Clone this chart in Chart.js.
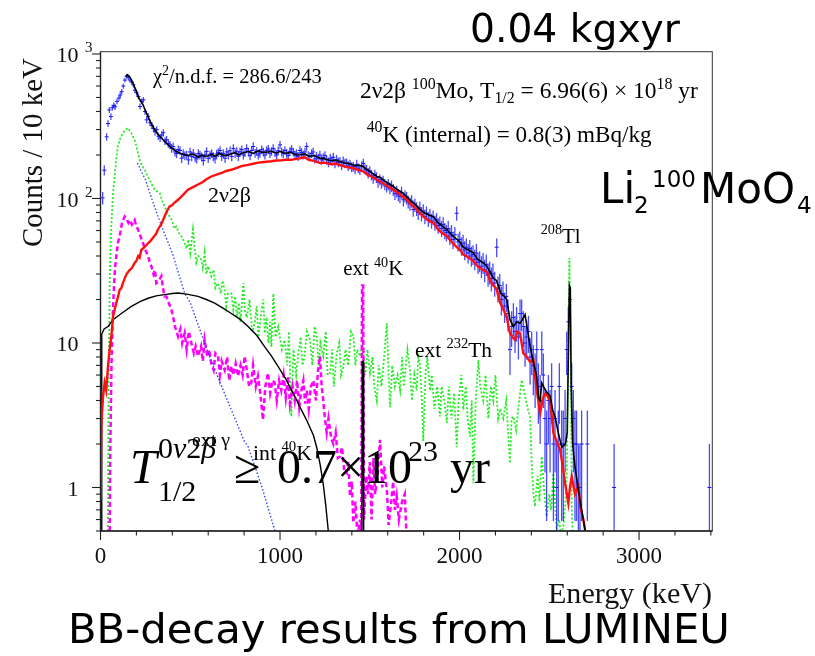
<!DOCTYPE html>
<html>
<head>
<meta charset="utf-8">
<script src="https://cdn.jsdelivr.net/npm/chart.js@4.4.0/dist/chart.umd.min.js"></script>
<style>
  html, body { margin: 0; padding: 0; background: #fff; }
</style>
</head>
<body>
<canvas id="spec" width="815" height="656"></canvas>
<script>
// energy spectrum, [keV, counts per 10 keV]
const dataCounts = [[5,3],[12,101],[21,157],[34,267],[42,330],[49,410],[58,369],[66,425],[74,440],[81,431],[92,470],[103,496],[110,520],[118,549],[127,600],[136,660],[146,700],[155,690],[164,660],[173,640],[183,612],[192,560],[201,540],[211,508],[220,433],[230,470],[239,482],[248,400],[257,350],[266,370],[276,334],[286,320],[295,305],[304,290],[313,299],[322,270],[332,262],[341,275],[350,285],[359,250],[368,255],[378,240],[387,235],[396,222],[405,229],[415,210],[424,205],[433,218],[443,215],[452,190],[461,205],[470,198],[480,200],[490,185],[499,210],[508,195],[517,206],[527,192],[536,188],[545,205],[554,200],[564,194],[573,183],[582,200],[591,212],[600,190],[610,200],[619,205],[628,195],[638,188],[647,203],[656,208],[666,215],[675,196],[684,205],[694,190],[703,210],[712,200],[722,214],[731,195],[740,222],[750,205],[759,212],[768,196],[777,210],[787,218],[796,200],[805,208],[814,222],[824,210],[833,198],[842,215],[851,229],[861,206],[870,212],[879,200],[888,206],[898,218],[907,210],[916,200],[925,215],[935,220],[944,205],[953,212],[962,222],[972,208],[981,200],[990,214],[1000,235],[1009,210],[1018,205],[1027,215],[1037,206],[1046,198],[1055,212],[1064,220],[1074,210],[1083,200],[1092,205],[1101,196],[1111,215],[1120,208],[1129,200],[1139,210],[1148,229],[1157,198],[1166,195],[1176,205],[1185,210],[1194,188],[1203,196],[1213,190],[1222,200],[1231,185],[1240,192],[1250,198],[1260,185],[1270,178],[1280,190],[1290,182],[1297,193],[1306,175],[1315,186],[1325,178],[1334,180],[1343,170],[1352,182],[1362,175],[1371,176],[1380,168],[1390,172],[1399,165],[1408,166],[1418,160],[1427,172],[1436,162],[1445,158],[1455,168],[1464,175],[1473,160],[1482,158],[1491,150],[1500,155],[1510,145],[1519,138],[1528,146],[1537,140],[1546,130],[1556,135],[1565,128],[1574,132],[1584,125],[1594,121],[1603,125],[1612,118],[1621,122],[1631,115],[1640,108],[1650,112],[1659,106],[1668,103],[1677,110],[1687,98],[1696,104],[1705,101],[1714,95],[1724,92],[1733,96],[1742,84],[1751,90],[1761,85],[1770,80],[1779,86],[1788,78],[1798,82],[1807,75],[1816,79],[1826,72],[1835,76],[1844,70],[1853,74],[1863,68],[1872,71],[1881,65],[1890,67],[1900,62],[1909,66],[1918,60],[1927,58],[1937,62],[1946,55],[1955,58],[1964,52],[1974,56],[1984,79],[1992,50],[2001,52],[2011,47],[2020,49],[2029,44],[2038,46],[2048,42],[2057,45],[2066,40],[2075,41],[2085,38],[2094,42],[2103,36],[2112,37],[2122,34],[2131,36],[2140,32],[2149,35],[2159,30],[2168,31],[2177,28],[2186,30],[2196,26],[2207,46],[2214,24],[2224,25],[2233,20],[2242,22],[2251,18],[2261,21],[2270,16],[2281,9],[2290,13],[2300,15],[2309,12],[2318,14],[2328,11],[2337,16],[2346,16],[2356,13],[2365,10],[2374,11],[2384,12],[2393,8],[2402,9],[2411,7],[2421,6],[2430,9],[2439,5],[2449,4],[2458,9],[2467,6],[2476,3],[2485,2],[2495,4],[2504,3],[2513,5],[2523,2],[2532,3],[2541,1],[2550,2],[2556,5],[2569,2],[2578,2],[2588,3],[2597,9],[2606,14],[2615,20],[2625,5],[2634,3],[2643,2],[2652,2],[2662,1],[2671,1],[2680,2],[2712,2],[2861,1],[3392,1]];

// total fit
const fitTotal = [[140,700],[150,718],[160,700],[170,670],[181,629],[190,590],[200,555],[209,508],[220,480],[237,445],[250,405],[265,369],[280,335],[302,299],[320,278],[339,262],[355,250],[376,235],[400,222],[422,212],[445,205],[469,201],[490,198],[505,203],[525,201],[545,193],[565,200],[580,196],[599,197],[620,202],[640,195],[660,205],[680,200],[700,198],[729,204],[750,208],[770,200],[790,206],[822,212],[850,205],[880,214],[900,208],[930,210],[952,212],[980,206],[1000,212],[1030,205],[1060,209],[1090,200],[1111,201],[1137,204],[1160,196],[1190,198],[1223,190],[1250,188],[1280,183],[1310,184],[1334,180],[1360,176],[1390,174],[1420,168],[1440,170],[1464,166],[1480,160],[1500,154],[1520,148],[1539,142],[1560,140],[1580,133],[1600,128],[1631,121],[1650,116],[1680,110],[1706,103],[1730,96],[1750,92],[1780,84],[1800,80],[1830,77],[1854,75],[1880,68],[1900,65],[1929,61],[1950,57],[1970,54],[2003,50],[2020,46],[2050,44],[2077,42],[2100,38],[2130,36],[2152,34],[2170,31],[2190,28],[2207,27],[2230,22],[2250,21],[2263,20],[2281,14.5],[2300,13],[2320,14],[2337,13.7],[2350,14.5],[2365,15.7],[2380,12],[2393,9.5],[2410,7.5],[2430,5.9],[2440,4.2],[2449,4.0],[2458,5.3],[2475,4.8],[2490,4.5],[2504,4.3],[2520,3.4],[2532,3.1],[2550,2.4],[2569,1.9],[2590,2.0],[2600,2.4],[2607,10],[2612,25],[2617,24],[2622,5],[2630,2.0],[2643,1.4],[2660,1.0],[2680,0.7],[2700,0.5],[2715,0.4]];

// 2v2b 100Mo
const twoNu = [[0,0.82],[5,2.8],[14,4.2],[23,5.3],[32,4.7],[42,7],[51,9],[60,11],[70,15.3],[79,17],[88,18.9],[98,21],[107,23.4],[116,24],[125,26],[135,28],[145,30],[162,32],[175,33],[190,35.8],[200,37],[210,40],[218,39],[227,44],[245,46],[265,49],[280,51],[290,53],[300,55],[310,57],[320,61],[330,64],[340,67],[357,75],[370,82],[385,88],[400,90],[410,93],[432,98],[460,106],[487,115],[510,119],[543,125],[570,130],[590,136],[617,142],[650,147],[680,151],[700,155],[729,158],[760,163],[790,168],[822,171],[850,174],[880,177],[910,179],[952,181],[980,183],[1010,184],[1040,186],[1063,185],[1090,188],[1111,190],[1137,193],[1160,185],[1190,182],[1223,176],[1250,177],[1280,173],[1310,174],[1334,171],[1360,166],[1390,164],[1420,160],[1440,157],[1464,154],[1490,145],[1510,142],[1539,135],[1560,130],[1580,126],[1600,121],[1631,115],[1650,111],[1680,104],[1706,98],[1730,91],[1750,87],[1780,79],[1800,75],[1830,70],[1854,68],[1880,61],[1900,58],[1929,55],[1950,51],[1970,48],[2003,44],[2020,41],[2050,39],[2077,37],[2100,34],[2130,32],[2152,31],[2170,27],[2190,25],[2207,23.4],[2226,19],[2245,17],[2263,15],[2281,11.7],[2295,11],[2309,10.5],[2322,12],[2337,11.7],[2355,8.5],[2375,8.0],[2393,7.4],[2411,7.65],[2420,6],[2430,4.7],[2449,3.27],[2465,4.2],[2480,4.5],[2504,4.0],[2515,3.0],[2523,2.38],[2540,2.1],[2560,1.82],[2575,1.4],[2588,1.07],[2606,0.78],[2615,1.0],[2625,1.19],[2643,0.9],[2662,1.02],[2672,0.74],[2690,0.6],[2700,0.5],[2710,0.45]];

// external gamma (232Th chain, 208Tl line)
const extGamma = [[40,0.3],[45,5],[52,30],[60,64],[70,110],[79,142],[88,190],[97,229],[110,260],[125,284],[140,300],[153,307],[162,295],[172,284],[180,270],[190,255],[200,230],[209,205],[218,185],[230,170],[246,158],[260,145],[274,135],[288,124],[302,115],[316,112],[330,109],[344,96],[357,88],[371,80],[385,75],[400,70],[410,62],[422,64],[436,58],[450,55],[460,52],[469,49],[480,45],[490,52],[500,42],[515,61],[525,45],[534,36],[545,40],[560,38],[570,33],[580,42],[590,30],[600,34],[617,29],[630,32],[640,24],[655,26],[670,22],[680,27],[692,23],[700,18],[710,22],[729,22],[740,17],[750,21],[760,15],[770,19],[780,14],[796,26],[803,17],[815,15],[830,20],[845,12],[859,13.7],[870,18],[880,11],[895,16],[907,20],[915,11.7],[925,15],[935,10],[945,14],[952,9.4],[963,22],[975,11],[990,13],[1010,9],[1026,10.5],[1040,7],[1050,12],[1063,3.1],[1075,9],[1090,6],[1100,8.1],[1115,11],[1125,7],[1137,8.1],[1150,12],[1167,10.5],[1180,7],[1193,13],[1204,11.1],[1215,7],[1225,10],[1241,8.1],[1255,12],[1265,6],[1279,6.2],[1290,9],[1300,5],[1316,8.5],[1330,10],[1340,6],[1353,6.9],[1365,9],[1380,7],[1395,12],[1409,11.1],[1420,7],[1430,9],[1446,8.1],[1460,10],[1475,6],[1487,9],[1501,6.2],[1515,8],[1525,5],[1539,4.0],[1550,7],[1565,5],[1580,8],[1595,13.7],[1605,6],[1613,3.6],[1625,7],[1640,5],[1655,6],[1669,4.7],[1680,8],[1690,5],[1700,7],[1710,9],[1724,6.5],[1735,4],[1748,6],[1761,4.7],[1770,8],[1780,7],[1790,4],[1798,2.1],[1810,6],[1820,8],[1836,4.7],[1845,6],[1860,3.5],[1875,5],[1891,3.1],[1900,5],[1915,4],[1929,2.8],[1940,5],[1955,3],[1970,4.5],[1984,1.9],[1995,4],[2010,6],[2021,3.45],[2035,5],[2045,3],[2058,2.25],[2068,4],[2077,1.07],[2090,4],[2105,7.65],[2115,5],[2132,4.0],[2145,6],[2160,3],[2175,5],[2188,4.0],[2200,6],[2215,3],[2226,3.5],[2244,3.0],[2260,4],[2270,2.5],[2281,1.47],[2290,3],[2300,3.1],[2315,2.5],[2328,3.6],[2346,5.55],[2365,4.26],[2380,3.5],[2393,3.1],[2402,1.47],[2412,0.9],[2420,0.74],[2435,1.2],[2445,0.8],[2458,1.64],[2470,1.0],[2485,0.63],[2500,0.9],[2510,0.7],[2523,1.26],[2532,0.8],[2541,0.51],[2555,0.6],[2565,0.45],[2579,0.55],[2590,0.8],[2597,1.19],[2605,8],[2612,38.7],[2618,12],[2625,0.74],[2632,0.4]];

// external 40K
const ext40K = [[50,0.3],[55,2],[62,8],[70,18],[80,32],[88,40],[98,50],[107,55],[120,68],[135,75],[145,72],[155,68],[162,71],[175,66],[190,71],[200,64],[209,61],[222,55],[237,49],[250,44],[265,40],[275,36],[283,34],[295,30],[303,32],[311,26],[325,27],[339,29],[348,24],[357,21],[367,21],[380,19],[395,17],[405,15],[415,13],[432,11.1],[445,12.5],[455,10],[469,11.7],[480,9],[492,12],[506,10],[520,8.5],[530,9.5],[543,8.1],[560,9.5],[570,7.5],[580,10.5],[595,8],[605,9],[617,7.2],[630,6.5],[640,8.5],[655,8.1],[665,6],[675,7.5],[692,6.5],[705,8],[717,5.5],[729,6.9],[740,6],[753,7.2],[766,5.9],[780,7],[792,6],[803,8.1],[815,6.5],[828,5],[840,5.3],[850,7],[865,5],[877,5.9],[890,4.5],[905,2.94],[918,5],[933,6.2],[945,4.5],[958,5.5],[970,5.3],[982,4],[995,5.5],[1007,4.7],[1020,6],[1032,4.2],[1045,5.9],[1055,3.8],[1070,5],[1082,4.0],[1095,5.5],[1107,3.6],[1119,4.7],[1130,5.5],[1140,3.8],[1149,4.7],[1160,3.5],[1172,5],[1186,5.5],[1200,4],[1212,6.5],[1223,8.1],[1232,5],[1241,4.0],[1250,3],[1260,2.4],[1270,3],[1285,2.2],[1297,2.0],[1310,2.4],[1322,1.6],[1334,1.64],[1345,1.9],[1358,1.3],[1371,1.26],[1380,1.5],[1390,0.87],[1400,1.1],[1408,0.57],[1420,0.8],[1432,0.45],[1445,0.6],[1452,0.45],[1457,25],[1463,25],[1468,0.6],[1480,1.2],[1490,0.9],[1500,1.5],[1510,0.6],[1520,1.6],[1530,0.9],[1545,1.3],[1557,2.14],[1570,1.0],[1580,1.4],[1595,0.96],[1605,0.55],[1620,0.8],[1630,1.1],[1640,0.7],[1650,0.87],[1662,0.6],[1680,0.8],[1695,0.9],[1705,0.45]];

// blue dotted component
const extGammaLow = [[205,176],[250,135],[300,88],[350,60],[400,42],[469,22],[500,19],[600,8.5],[700,4.2],[729,3.45],[800,2.1],[822,1.92],[900,1.0],[970,0.51],[990,0.42]];

// internal 40K beta spectrum and its 1461 keV line
const int40K = [[4,0.4],[7,11.5],[20,12.5],[42,13],[70,14.5],[116,16],[172,17.9],[220,19.3],[265,20.4],[310,21.2],[357,21.6],[400,22],[432,22.2],[480,21.8],[543,21],[590,20],[636,18.9],[680,17.5],[729,16],[780,14.5],[822,13],[870,11.3],[915,9.4],[950,8.2],[989,6.9],[1030,5.7],[1063,4.74],[1090,4.1],[1111,3.6],[1150,2.9],[1186,2.3],[1204,1.9],[1223,1.45],[1241,1.05],[1255,0.75],[1269,0.5],[1280,0.4]];
const int40KLine = [[1455,0.3],[1458,7.45],[1463,7.45],[1466,0.3]];

// axis ticks
const xTickValues = [0, 1000, 2000, 3000];
const xMinorStep = 200;
const yTickValues = [1, 10, 100, 1000];
const yTickBase = ['1', '10', '10', '10'];
const yTickExp = ['', '', '2', '3'];

const pts = arr => arr.map(p => ({x: p[0], y: p[1]}));
const SERIF = 'Liberation Serif';
const SANS = 'DejaVu Sans';

function lineSet(label, arr, color, width, dash) {
  return {label, data: pts(arr), showLine: true, borderColor: color, backgroundColor: color,
    borderWidth: width, borderDash: dash || [], pointRadius: 0, tension: 0};
}

// draw [text, kind] pieces, kind 'n' normal, '^' superscript, '_' subscript
function rich(ctx, x, y, parts, size, targetW) {
  const fontOf = (k, s) => (k === 'n' ? s : s * 0.68) + 'px "' + SERIF + '"';
  if (targetW) {
    let w = 0;
    parts.forEach(([t, k]) => { ctx.font = fontOf(k, size); w += ctx.measureText(t).width; });
    size = size * targetW / w;
  }
  let cx = x;
  parts.forEach(([t, k]) => {
    ctx.font = fontOf(k, size);
    const dy = k === '^' ? -size * 0.4 : k === '_' ? size * 0.22 : 0;
    ctx.fillText(t, cx, y + dy);
    cx += ctx.measureText(t).width;
  });
}

function fitText(ctx, text, x, y, family, targetW, style) {
  ctx.font = (style || '') + ' 40px "' + family + '"';
  const s = 40 * targetW / ctx.measureText(text).width;
  ctx.font = (style || '') + ' ' + s + 'px "' + family + '"';
  ctx.fillText(text, x, y);
}

const errorBars = {
  id: 'errorBars',
  afterDatasetDraw(chart, args) {
    if (chart.data.datasets[args.index].label !== 'Data') return;
    const {ctx, chartArea: a, scales: {x, y}} = chart;
    ctx.save();
    ctx.beginPath();
    ctx.rect(a.left, a.top, a.right - a.left, a.bottom - a.top);
    ctx.clip();
    ctx.strokeStyle = 'rgba(30,30,250,0.8)';
    ctx.lineWidth = 1.3;
    dataCounts.forEach(([e, n]) => {
      const s = Math.sqrt(n);
      const px = x.getPixelForValue(e);
      const lo = n - s > 0 ? y.getPixelForValue(n - s) : a.bottom;
      ctx.beginPath();
      ctx.moveTo(px, lo);
      ctx.lineTo(px, y.getPixelForValue(n + s));
      ctx.stroke();
    });
    ctx.restore();
  }
};

const decorations = {
  id: 'decorations',
  afterDraw(chart) {
    const {ctx, chartArea: a, scales: {x, y}} = chart;
    ctx.save();
    const seg = (x1, y1, x2, y2) => { ctx.beginPath(); ctx.moveTo(x1, y1); ctx.lineTo(x2, y2); ctx.stroke(); };

    // frame
    ctx.strokeStyle = '#333';
    ctx.lineWidth = 1;
    ctx.strokeRect(a.left, a.top, a.right - a.left, a.bottom - a.top);
    ctx.strokeStyle = '#222';
    ctx.lineWidth = 1.4;
    seg(a.left, a.top, a.left, a.bottom);
    seg(a.left, a.bottom, a.right, a.bottom);

    // y ticks (log)
    ctx.lineWidth = 1.1;
    for (let d = -1; d <= 3; d++) {
      for (let m = 1; m <= 9; m++) {
        const v = m * Math.pow(10, d);
        if (v < y.min - 1e-9 || v > y.max) continue;
        const py = y.getPixelForValue(v);
        seg(a.left - (m === 1 ? 8.5 : 4.5), py, a.left, py);
      }
    }
    // x ticks
    for (let e = 0; e <= x.max; e += xMinorStep) {
      const px = x.getPixelForValue(e);
      seg(px, a.bottom, px, a.bottom + (e % 1000 === 0 ? 9 : 4.5));
    }

    ctx.fillStyle = '#111';
    ctx.textBaseline = 'alphabetic';
    // x tick labels
    ctx.textAlign = 'center';
    ctx.font = '23px "' + SERIF + '"';
    xTickValues.forEach(v => ctx.fillText(String(v), x.getPixelForValue(v), 563));
    // y tick labels
    yTickValues.forEach((v, i) => {
      const py = y.getPixelForValue(v);
      ctx.textAlign = 'right';
      ctx.font = '22px "' + SERIF + '"';
      ctx.fillText(yTickBase[i], 78.5, py + 8.5);
      if (yTickExp[i]) {
        ctx.textAlign = 'left';
        ctx.font = '15px "' + SERIF + '"';
        ctx.fillText(yTickExp[i], 85, py - 1.5);
      }
    });
    ctx.textAlign = 'left';

    // axis titles
    fitText(ctx, 'Energy (keV)', 548, 603, SERIF, 164);
    ctx.save();
    ctx.translate(34, 152.5);
    ctx.rotate(-Math.PI / 2);
    ctx.textAlign = 'center';
    ctx.textBaseline = 'middle';
    fitText(ctx, 'Counts / 10 keV', 0, 0, SERIF, 189);
    ctx.restore();

    // annotations
    ctx.fillStyle = '#000';
    rich(ctx, 153, 83.3, [['\u03c7', 'n'], ['2', '^'], ['/n.d.f. = 286.6/243', 'n']], 19, 169);
    rich(ctx, 360, 98, [['2\u03bd2\u03b2 ', 'n'], ['100', '^'], ['Mo, T', 'n'], ['1/2', '_'],
      [' = 6.96(6) \u00d7 10', 'n'], ['18', '^'], [' yr', 'n']], 19, 338);
    rich(ctx, 366.7, 141.7, [['40', '^'], ['K (internal) = 0.8(3) mBq/kg', 'n']], 19, 285);
    rich(ctx, 208, 201.7, [['2\u03bd2\u03b2', 'n']], 19, 43);
    rich(ctx, 343.3, 275, [['ext ', 'n'], ['40', '^'], ['K', 'n']], 19, 60);
    rich(ctx, 415, 356.7, [['ext ', 'n'], ['232', '^'], ['Th', 'n']], 19, 77);
    rich(ctx, 540.7, 242.7, [['208', '^'], ['Tl', 'n']], 19, 40);
    rich(ctx, 192, 446, [['ext \u03b3', 'n']], 16, 38);
    rich(ctx, 253, 460, [['int ', 'n'], ['40', '^'], ['K', 'n']], 18, 59);

    // half-life limit
    ctx.font = 'italic 48px "' + SERIF + '"';
    ctx.fillText('T', 130, 483);
    let cx = 158;
    [['0', ''], ['\u03bd', 'italic '], ['2', ''], ['\u03b2', 'italic ']].forEach(([t, st]) => {
      ctx.font = st + '30px "' + SERIF + '"';
      ctx.fillText(t, cx, 458);
      cx += ctx.measureText(t).width;
    });
    ctx.font = '30px "' + SERIF + '"';
    ctx.fillText('1/2', 158, 501);
    ctx.font = '48px "' + SERIF + '"';
    ctx.fillText('\u2265', 234, 483);
    ctx.fillText('0.7\u00d710', 277, 483);
    ctx.fillText('yr', 450, 483);
    ctx.font = '30px "' + SERIF + '"';
    ctx.fillText('23', 408, 461);

    // slide captions
    fitText(ctx, '0.04 kgxyr', 470, 42, SANS, 210);
    fitText(ctx, 'BB-decay results from LUMINEU', 68, 643, SANS, 662);
    ctx.font = '42px "' + SANS + '"';
    ctx.fillText('Li', 600, 203);
    ctx.fillText('MoO', 700, 203);
    ctx.font = '23px "' + SANS + '"';
    ctx.fillText('2', 634, 213);
    ctx.fillText('100', 652, 187);
    ctx.fillText('4', 797, 213);
    ctx.restore();
  }
};

new Chart(document.getElementById('spec').getContext('2d'), {
  type: 'scatter',
  data: {
    datasets: [
      lineSet('Fit', fitTotal, '#000000', 1.6),
      lineSet('2v2b', twoNu, '#ff1010', 2.4),
      {label: 'Data', data: pts(dataCounts), showLine: false, pointStyle: 'line', pointRadius: 2,
        borderColor: '#1010ff', borderWidth: 1},
      lineSet('int 40K', int40K, '#000000', 1.4),
      lineSet('int 40K line', int40KLine, '#000000', 1.4),
      lineSet('blue', extGammaLow, '#2a3cff', 1.3, [1.5, 2]),
      lineSet('ext 40K', ext40K, '#ff00ff', 2.5, [5, 3]),
      lineSet('ext gamma', extGamma, '#22ee22', 1.8, [2, 2])
    ]
  },
  options: {
    responsive: false,
    animation: false,
    events: [],
    layout: {padding: {left: 100.5, top: 51.7, right: 102.7, bottom: 125}},
    scales: {
      x: {type: 'linear', min: 0, max: 3408, display: false},
      y: {type: 'logarithmic', min: 0.5, max: 1037, display: false}
    },
    plugins: {legend: {display: false}, tooltip: {enabled: false}, title: {display: false}}
  },
  plugins: [errorBars, decorations]
});
</script>
</body>
</html>
